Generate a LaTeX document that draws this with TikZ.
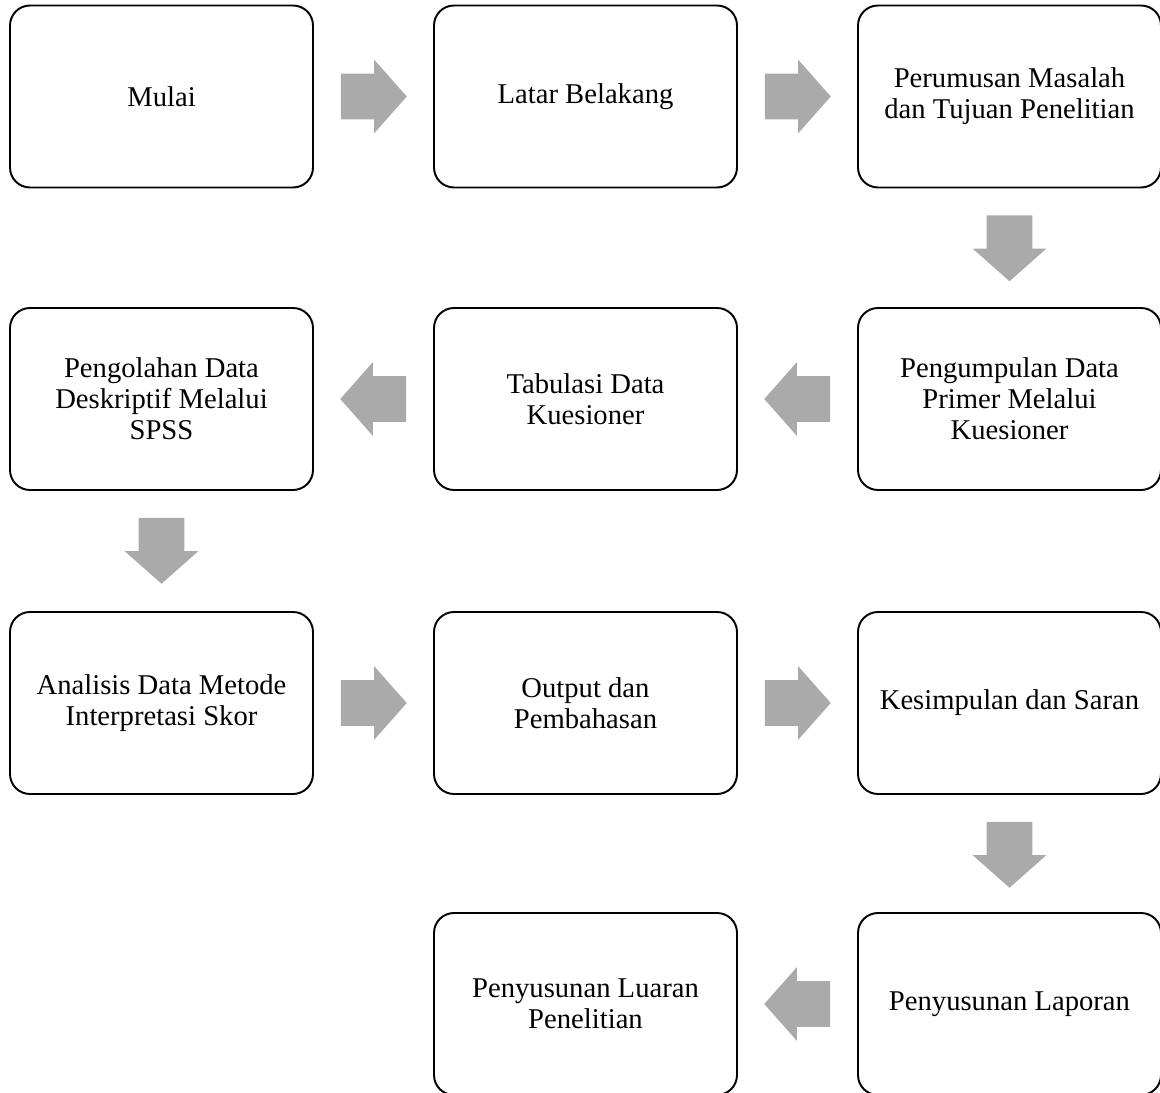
\documentclass[tikz,border=0pt]{standalone}
\usepackage{fontspec}
\setmainfont{Liberation Serif}
\usetikzlibrary{shapes,shapes.arrows,positioning,calc}

\definecolor{arrowgray}{RGB}{170,170,170}

\tikzset{
    stepbox/.style={draw=black, line width=1.1pt, rounded corners=0.4cm,
        minimum width=6.06cm, minimum height=3.64cm, align=center,
        font=\fontsize{16.3}{17.6}\selectfont},
    blockarrow/.style={single arrow, fill=arrowgray, draw=none, inner sep=0.45cm,
        minimum height=1.28cm, minimum width=1.46cm,
        single arrow head extend=0.28cm, single arrow tip angle=97,
        single arrow head indent=0pt, anchor=tail}
}

\begin{document}
\begin{tikzpicture}
    \useasboundingbox (0,0) rectangle (23.2,-21.86);

    % First Row
    \node[stepbox] (mulai) at (3.23,-1.93) {Mulai};
    \node[stepbox] (latar) at (11.71,-1.93) {Latar Belakang};
    \node[stepbox] (rumusan) at (20.19,-1.93) {Perumusan Masalah\\dan Tujuan Penelitian};

    % Second Row
    \node[stepbox] (olah) at (3.23,-7.98) {Pengolahan Data\\Deskriptif Melalui\\SPSS};
    \node[stepbox] (tabulasi) at (11.71,-7.98) {Tabulasi Data\\Kuesioner};
    \node[stepbox] (kumpul) at (20.19,-7.98) {Pengumpulan Data\\Primer Melalui\\Kuesioner};

    % Third Row
    \node[stepbox] (analisis) at (3.23,-14.06) {Analisis Data Metode\\Interpretasi Skor};
    \node[stepbox] (output) at (11.71,-14.06) {Output dan\\Pembahasan};
    \node[stepbox] (simpulan) at (20.19,-14.06) {Kesimpulan dan Saran};

    % Fourth Row
    \node[stepbox] (luaran) at (11.71,-20.08) {Penyusunan Luaran\\Penelitian};
    \node[stepbox] (laporan) at (20.19,-20.08) {Penyusunan Laporan};

    % Arrows between steps
    \node[blockarrow] (a1) at ($(mulai.east)!0.53cm!(latar.west)$) {};
    \node[blockarrow] (a2) at ($(latar.east)!0.53cm!(rumusan.west)$) {};
    \node[blockarrow, shape border rotate=270] (a3) at ($(rumusan.south)!0.53cm!(kumpul.north)$) {};
    \node[blockarrow, shape border rotate=180] (a4) at ($(kumpul.west)!0.53cm!(tabulasi.east)$) {};
    \node[blockarrow, shape border rotate=180] (a5) at ($(tabulasi.west)!0.53cm!(olah.east)$) {};
    \node[blockarrow, shape border rotate=270] (a6) at ($(olah.south)!0.53cm!(analisis.north)$) {};
    \node[blockarrow] (a7) at ($(analisis.east)!0.53cm!(output.west)$) {};
    \node[blockarrow] (a8) at ($(output.east)!0.53cm!(simpulan.west)$) {};
    \node[blockarrow, shape border rotate=270] (a9) at ($(simpulan.south)!0.53cm!(laporan.north)$) {};
    \node[blockarrow, shape border rotate=180] (a10) at ($(laporan.west)!0.53cm!(luaran.east)$) {};

\end{tikzpicture}
\end{document}
